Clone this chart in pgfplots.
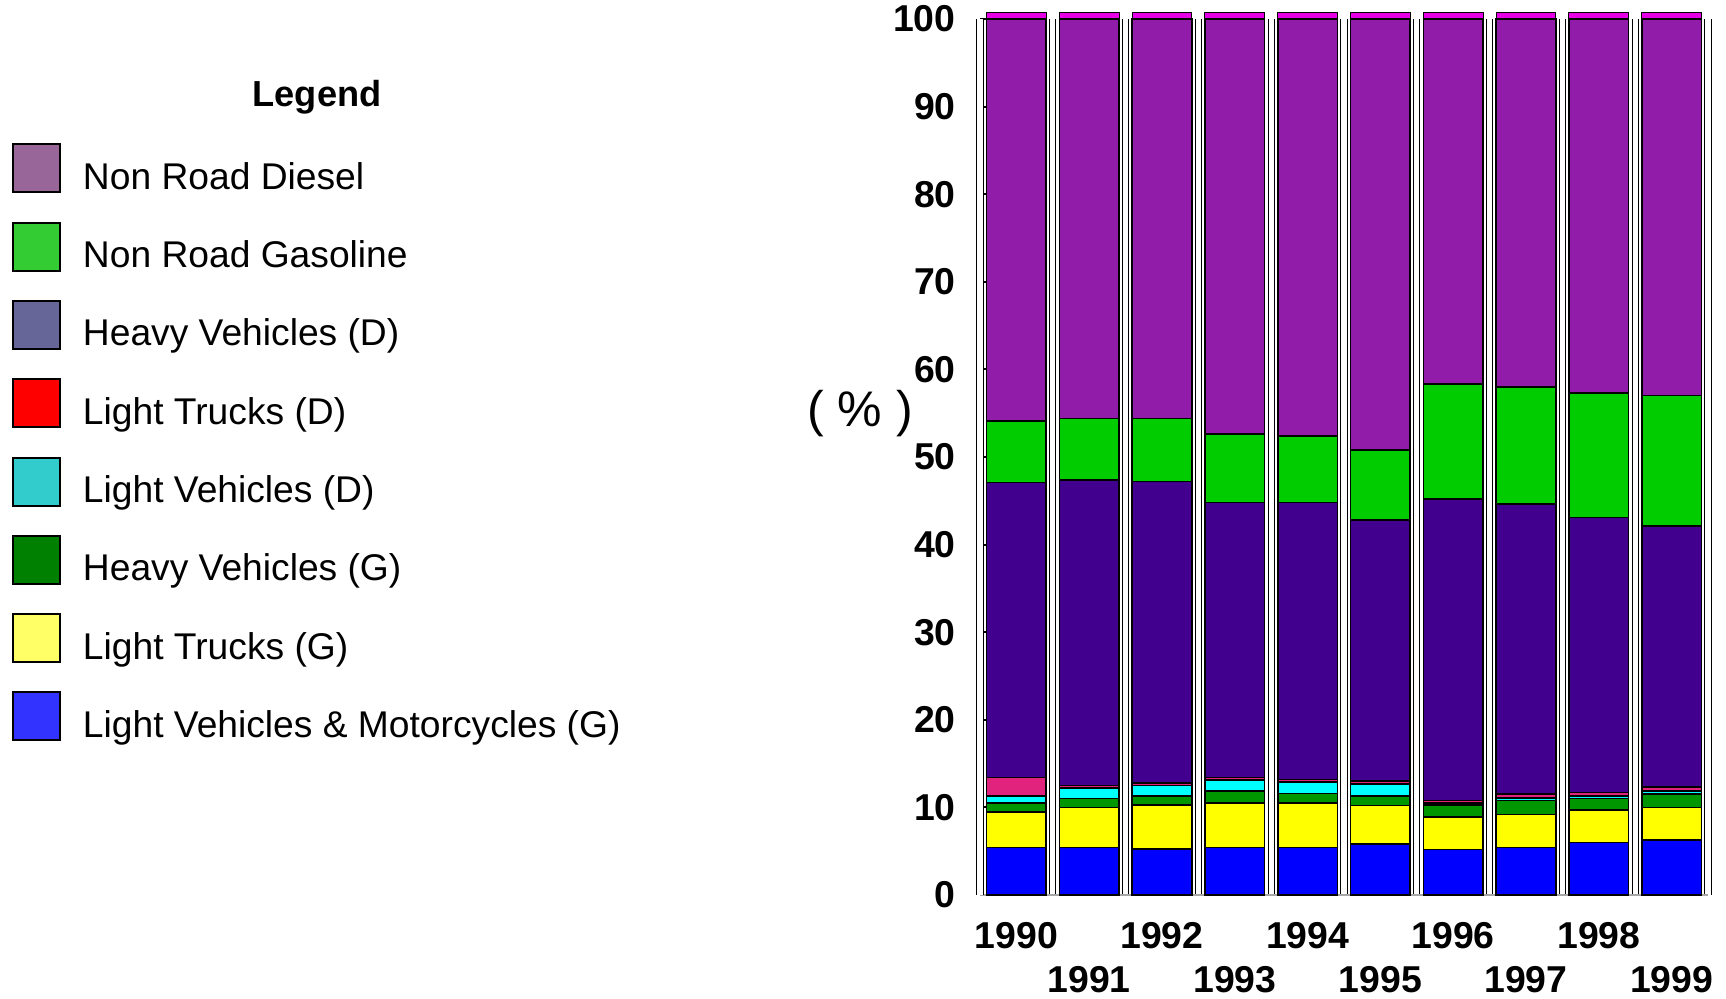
\documentclass[border=0pt]{standalone}
\usepackage{pgfplots}
\pgfplotsset{compat=1.18}
\usepackage{fontspec}
\setmainfont{Liberation Sans}
% bar colours
\definecolor{bLVM}{HTML}{0000FF}
\definecolor{bLTG}{HTML}{FFFF00}
\definecolor{bHVG}{HTML}{009600}
\definecolor{bLVD}{HTML}{00FFFF}
\definecolor{bLTD}{HTML}{E2237E}
\definecolor{bHVD}{HTML}{42008E}
\definecolor{bNRG}{HTML}{00CC00}
\definecolor{bNRD}{HTML}{911CA9}
\definecolor{bTop}{HTML}{E600E6}
% legend colours
\definecolor{lNRD}{HTML}{996699}
\definecolor{lNRG}{HTML}{33CC33}
\definecolor{lHVD}{HTML}{666699}
\definecolor{lLTD}{HTML}{FF0000}
\definecolor{lLVD}{HTML}{33CCCC}
\definecolor{lHVG}{HTML}{008000}
\definecolor{lLTG}{HTML}{FFFF66}
\definecolor{lLVM}{HTML}{3333FF}
\begin{document}
\begin{tikzpicture}
\useasboundingbox (0,0) rectangle (863pt,499.5pt);
\begin{axis}[
  at={(490pt,52pt)}, anchor=south west,
  scale only axis, width=364pt, height=438pt,
  ybar stacked, bar width=0.82,
  xmin=-0.5, xmax=9.5, ymin=0, ymax=100,
  clip=false,
  axis lines=left,
  axis line style={-},
  x axis line style={draw=gray!70, line width=0.8pt},
  y axis line style={draw=black, line width=0.6pt, double=white, double distance=2.6pt},
  xtick={0,2,4,6,8}, xticklabels={1990,1992,1994,1996,1998},
  extra x ticks={1,3,5,7,9}, extra x tick labels={1991,1993,1995,1997,1999},
  extra x tick style={xticklabel style={yshift=-22pt}},
  xtick style={draw=none},
  minor xtick={0.5,1.5,2.5,3.5,4.5,5.5,6.5,7.5,8.5,9.5},
  xminorgrids=true,
  minor x grid style={draw=black, line width=0.5pt, double=white, double distance=2.6pt},
  ytick={0,10,20,30,40,50,60,70,80,90,100},
  ytick style={draw=black, line width=1pt},
  tick align=inside, major tick length=4pt,
  /pgf/number format/assume math mode=true,
  yticklabel style={font=\bfseries\fontsize{18.7}{20}\selectfont, inner sep=0pt, xshift=-12pt},
  xticklabel style={font=\bfseries\fontsize{18.7}{20}\selectfont, inner sep=0pt, anchor=base, yshift=-27pt},
  every axis plot/.append style={draw=black, line width=0.8pt},
]
% Light Vehicles & Motorcycles (G)
\addplot[fill=bLVM] coordinates {(0,5.4) (1,5.4) (2,5.25) (3,5.4) (4,5.4) (5,5.8) (6,5.2) (7,5.4) (8,6.0) (9,6.3)};
% Light Trucks (G)
\addplot[fill=bLTG] coordinates {(0,4.1) (1,4.6) (2,5.05) (3,5.1) (4,5.1) (5,4.4) (6,3.7) (7,3.8) (8,3.7) (9,3.7)};
% Heavy Vehicles (G)
\addplot[fill=bHVG] coordinates {(0,1.0) (1,1.0) (2,1.0) (3,1.4) (4,1.1) (5,1.1) (6,1.4) (7,1.6) (8,1.3) (9,1.5)};
% Light Vehicles (D)
\addplot[fill=bLVD] coordinates {(0,0.8) (1,1.2) (2,1.2) (3,1.2) (4,1.3) (5,1.4) (6,0.2) (7,0.3) (8,0.3) (9,0.35)};
% Light Trucks (D)
\addplot[fill=bLTD] coordinates {(0,2.1) (1,0.3) (2,0.3) (3,0.3) (4,0.3) (5,0.3) (6,0.3) (7,0.4) (8,0.4) (9,0.45)};
% Heavy Vehicles (D)
\addplot[fill=bHVD] coordinates {(0,33.7) (1,34.9) (2,34.4) (3,31.4) (4,31.6) (5,29.8) (6,34.4) (7,33.1) (8,31.4) (9,29.8)};
% Non Road Gasoline
\addplot[fill=bNRG] coordinates {(0,7.0) (1,7.0) (2,7.2) (3,7.8) (4,7.6) (5,8.0) (6,13.1) (7,13.4) (8,14.2) (9,14.9)};
% Non Road Diesel
\addplot[fill=bNRD] coordinates {(0,45.9) (1,45.6) (2,45.6) (3,47.4) (4,47.6) (5,49.2) (6,41.7) (7,42.0) (8,42.7) (9,43.0)};
% top face of the 3D bars
\addplot[fill=bTop, line width=0.5pt] coordinates {(0,0.7) (1,0.7) (2,0.7) (3,0.7) (4,0.7) (5,0.7) (6,0.7) (7,0.7) (8,0.7) (9,0.7)};
\end{axis}
% y label
\node[font=\fontsize{25}{28}\selectfont] at (430pt,292.5pt) {( \% )};
% legend
\node[font=\bfseries\fontsize{18.1}{20}\selectfont, anchor=base] at (158.5pt,446.1pt) {Legend};
\foreach \c/\t [count=\i from 0] in {lNRD/Non Road Diesel, lNRG/Non Road Gasoline, lHVD/Heavy Vehicles (D), lLTD/Light Trucks (D), lLVD/Light Vehicles (D), lHVG/Heavy Vehicles (G), lLTG/Light Trucks (G), lLVM/Light Vehicles \& Motorcycles (G)} {
  \pgfmathsetmacro{\yc}{415.3-39.15*\i}
  \draw[black, line width=1pt, fill=\c] (6.6pt,\yc pt-12pt) rectangle (30.2pt,\yc pt+12pt);
  \node[anchor=base west, inner sep=0pt, font=\fontsize{18.6}{20}\selectfont] at (41.3pt,\yc pt-10.5pt) {\t};
}
\end{tikzpicture}
\end{document}
